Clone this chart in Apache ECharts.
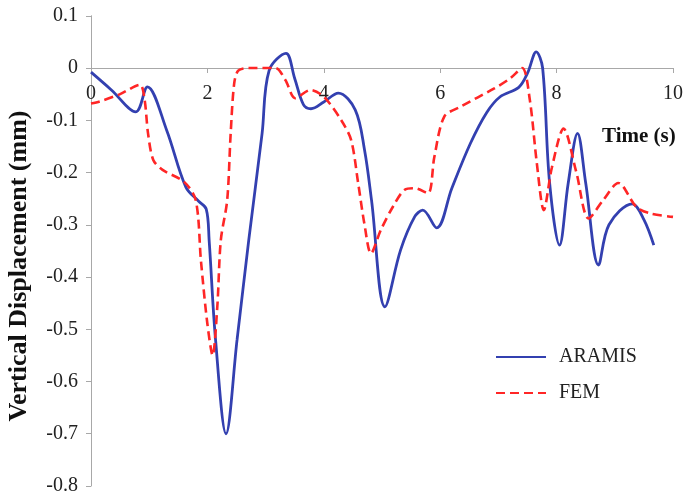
<!DOCTYPE html>
<html>
<head>
<meta charset="utf-8">
<script src="https://cdn.jsdelivr.net/npm/echarts@6/dist/echarts.min.js"></script>
<style>html,body{margin:0;padding:0;background:#fff;}#c{width:686px;height:498px;}</style>
</head>
<body>
<div id="c"></div>
<script>
var seriesNames = ['ARAMIS', 'FEM'];
var xTicks = [0, 2, 4, 6, 8, 10];
var yTicks = [0.1, 0, -0.1, -0.2, -0.3, -0.4, -0.5, -0.6, -0.7, -0.8];
var aramis = [
  [0, -0.008], [0.35, -0.042], [0.77, -0.084], [0.97, -0.036], [1.3, -0.119],
  [1.63, -0.228], [1.85, -0.255], [1.98, -0.27], [2.03, -0.33], [2.14, -0.52],
  [2.32, -0.70], [2.51, -0.52], [2.71, -0.33], [2.94, -0.125], [3.06, -0.005],
  [3.35, 0.028], [3.5, -0.02], [3.65, -0.07], [3.78, -0.078], [4.0, -0.065],
  [4.25, -0.048], [4.54, -0.08], [4.7, -0.157], [4.82, -0.253], [5.05, -0.457],
  [5.32, -0.348], [5.56, -0.285], [5.7, -0.272], [5.94, -0.306], [6.2, -0.23],
  [6.52, -0.144], [6.8, -0.085], [7.03, -0.055], [7.35, -0.037], [7.5, -0.01],
  [7.65, 0.031], [7.76, 0.0], [7.88, -0.22], [8.05, -0.339], [8.2, -0.22],
  [8.36, -0.125], [8.5, -0.22], [8.72, -0.377], [8.9, -0.30], [9.3, -0.26],
  [9.5, -0.29], [9.67, -0.339]
];
var fem = [
  [0, -0.068], [0.15, -0.064], [0.5, -0.05], [0.84, -0.032], [0.92, -0.06],
  [0.98, -0.125], [1.07, -0.176], [1.23, -0.195], [1.6, -0.218], [1.8, -0.253],
  [1.89, -0.37], [2.0, -0.49], [2.09, -0.55], [2.17, -0.457], [2.23, -0.33],
  [2.34, -0.253], [2.4, -0.125], [2.46, -0.03], [2.53, -0.005], [2.71, 0.0],
  [3.17, 0.0], [3.34, -0.023], [3.51, -0.058], [3.77, -0.042], [4.0, -0.055],
  [4.3, -0.1], [4.47, -0.138], [4.59, -0.22], [4.7, -0.3], [4.81, -0.355],
  [4.98, -0.31], [5.19, -0.265], [5.39, -0.233], [5.56, -0.23], [5.79, -0.24],
  [5.9, -0.17], [6.07, -0.093], [6.35, -0.074], [6.93, -0.039], [7.2, -0.02],
  [7.41, 0.0], [7.54, -0.061], [7.66, -0.182], [7.78, -0.272], [7.92, -0.19],
  [8.12, -0.116], [8.34, -0.2], [8.55, -0.288], [8.8, -0.253], [9.06, -0.22],
  [9.37, -0.266], [9.6, -0.278], [10, -0.285]
];

var FONT = 'Liberation Serif';
var GRID_TOP = 15.75, GRID_BOTTOM = 12, CHART_H = 498;
var yMin = yTicks[yTicks.length - 1], yMax = yTicks[0];
// distance from the top edge of the grid down to the value 0 (for the x axis placed at zero)
var zeroOffset = (CHART_H - GRID_TOP - GRID_BOTTOM) * (yMax - 0) / (yMax - yMin);

var chart = echarts.init(document.getElementById('c'));
chart.setOption({
  animation: false,
  backgroundColor: '#fff',
  grid: { left: 91, right: 9, top: GRID_TOP, bottom: GRID_BOTTOM },
  xAxis: {
    type: 'value', min: xTicks[0], max: xTicks[xTicks.length - 1], interval: 2,
    position: 'top', offset: -zeroOffset,
    axisLine: { onZero: false, lineStyle: { color: '#a8a8a8', width: 1 } },
    axisTick: { show: true, inside: true, length: 5, lineStyle: { color: '#a8a8a8' } },
    axisLabel: { inside: true, margin: 16, fontFamily: FONT, fontSize: 20, color: '#222' },
    splitLine: { show: false }
  },
  yAxis: {
    type: 'value', min: yMin, max: yMax, interval: 0.1,
    axisLine: { show: true, onZero: false, lineStyle: { color: '#a8a8a8', width: 1 } },
    axisTick: { show: true, length: 5, lineStyle: { color: '#a8a8a8' } },
    axisLabel: { margin: 13, fontFamily: FONT, fontSize: 20, color: '#222',
      formatter: function (v) { return (Math.round(v * 10) / 10).toString(); } },
    splitLine: { show: false }
  },
  legend: {
    orient: 'vertical', left: 490, top: 342, itemWidth: 50, itemHeight: 20, itemGap: 16,
    itemStyle: { opacity: 0 },
    textStyle: { fontFamily: FONT, fontSize: 20, color: '#222', padding: [0, 0, 0, 8] },
    data: seriesNames
  },
  graphic: [
    { type: 'text', left: 602, top: 126,
      style: { text: 'Time (s)', font: 'bold 21px "Liberation Serif"', fill: '#111' } },
    { type: 'text', x: 19, y: 266, rotation: Math.PI / 2,
      style: { text: 'Vertical Displacement (mm)', font: 'bold 26px "Liberation Serif"', fill: '#111',
        textAlign: 'center', textVerticalAlign: 'middle' } }
  ],
  series: [
    { name: seriesNames[0], type: 'line', data: aramis, smooth: 0.35, showSymbol: false, symbol: 'none',
      lineStyle: { color: '#3340b0', width: 2.8 }, itemStyle: { color: '#3340b0' } },
    { name: seriesNames[1], type: 'line', data: fem, smooth: 0.3, showSymbol: false, symbol: 'none',
      lineStyle: { color: '#ff2626', width: 2.6, type: [9, 5] }, itemStyle: { color: '#ff2626' } }
  ]
});
</script>
</body>
</html>
